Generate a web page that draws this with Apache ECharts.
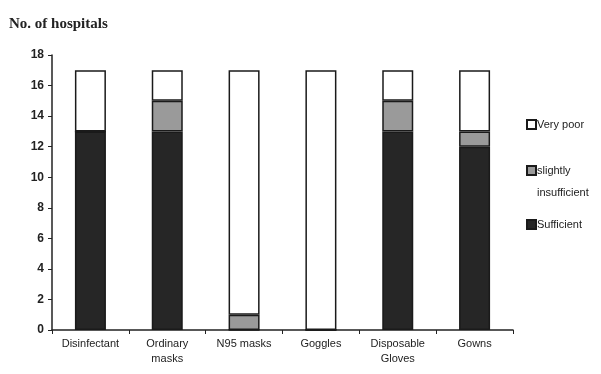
<!DOCTYPE html>
<html>
<head>
<meta charset="utf-8">
<script src="https://cdn.jsdelivr.net/npm/echarts@6/dist/echarts.min.js"></script>
<style>
  html, body { margin: 0; padding: 0; background: #fff; }
  #main { width: 601px; height: 374px; }
</style>
</head>
<body>
<div id="main"></div>
<script>
// 数据
var categories = ['Disinfectant', 'Ordinary\nmasks', 'N95 masks', 'Goggles', 'Disposable\nGloves', 'Gowns']
var sufficient = [13, 13, 0, 0, 13, 12]
var slightly = [0, 2, 1, 0, 2, 1]
var veryPoor = [4, 2, 16, 17, 2, 4]
var yTicks = [0, 2, 4, 6, 8, 10, 12, 14, 16, 18]

var myChart = echarts.init(document.getElementById('main'))
var font = 'Liberation Sans'
var border = { borderColor: '#1a1a1a', borderWidth: 1.5 }

function legendAt(name, top, label) {
  return {
    data: [name],
    left: 521,
    top: top,
    itemWidth: 9,
    itemHeight: 9,
    itemGap: 0,
    icon: 'rect',
    formatter: function () { return label },
    textStyle: { fontFamily: font, fontSize: 11, color: '#222', padding: [0, 0, 0, -4] }
  }
}

var options = {
  animation: false,
  title: {
    text: 'No. of hospitals',
    left: 4,
    top: 12,
    textStyle: { fontFamily: 'Liberation Serif', fontSize: 15, fontWeight: 'bold', color: '#222' }
  },
  legend: [
    legendAt('Very poor', 114, 'Very poor'),
    legendAt('slightly insufficient', 160, 'slightly'),
    legendAt('Sufficient', 214, 'Sufficient')
  ],
  graphic: [{
    type: 'text',
    left: 537,
    top: 187,
    style: { text: 'insufficient', fontFamily: font, fontSize: 11, fill: '#222' }
  }],
  grid: { left: 52, right: 88, top: 55, bottom: 44 },
  xAxis: {
    type: 'category',
    data: categories,
    axisLine: { lineStyle: { color: '#222', width: 1.5 } },
    axisTick: { show: true, length: 4, lineStyle: { color: '#222' } },
    axisLabel: { fontFamily: font, fontSize: 11, color: '#222', margin: 6, lineHeight: 15, interval: 0 }
  },
  yAxis: {
    type: 'value',
    min: 0,
    max: 18,
    interval: 2,
    splitLine: { show: false },
    axisLine: { show: true, lineStyle: { color: '#222', width: 1.5 } },
    axisTick: { show: true, length: 4, lineStyle: { color: '#222' } },
    axisLabel: {
      fontFamily: font, fontSize: 12, fontWeight: 'bold', color: '#222', margin: 8,
      formatter: function (v) { return yTicks.indexOf(v) >= 0 ? String(v) : '' }
    }
  },
  series: [{
    name: 'Sufficient',
    type: 'bar',
    stack: 'total',
    barWidth: 31,
    data: sufficient,
    itemStyle: Object.assign({ color: '#262626' }, border)
  }, {
    name: 'slightly insufficient',
    type: 'bar',
    stack: 'total',
    data: slightly,
    itemStyle: Object.assign({ color: '#9a9a9a' }, border)
  }, {
    name: 'Very poor',
    type: 'bar',
    stack: 'total',
    data: veryPoor,
    itemStyle: Object.assign({ color: '#ffffff' }, border)
  }]
}
myChart.setOption(options)
</script>
</body>
</html>
